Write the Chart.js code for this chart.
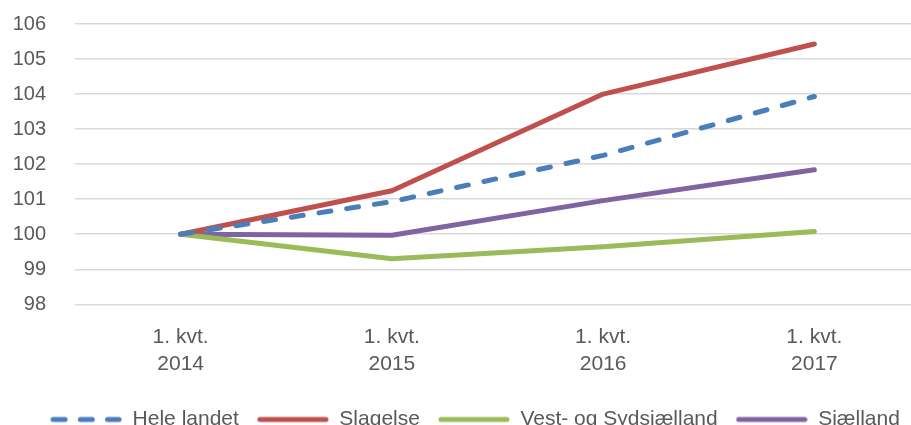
<!DOCTYPE html>
<html>
<head>
<meta charset="utf-8">
<script src="https://cdn.jsdelivr.net/npm/chart.js@4"></script>
<style>
  html, body { margin: 0; padding: 0; background: #fff; overflow: hidden; width: 911px; height: 425px; }
  #wrap { position: relative; width: 920px; height: 457px; margin-top: -17px; }
</style>
</head>
<body>
<div id="wrap"><canvas id="indexChart"></canvas></div>
<script>
  // data (index, 1. kvt. 2014 = 100)
  var quarters = [['1. kvt.', '2014'], ['1. kvt.', '2015'], ['1. kvt.', '2016'], ['1. kvt.', '2017']];
  var heleLandet = [100, 100.93, 102.25, 103.93];
  var slagelse = [100, 101.24, 104.0, 105.43];
  var vestSyd = [100, 99.3, 99.64, 100.08];
  var sjaelland = [100, 99.97, 100.96, 101.84];
  var yTicks = [98, 99, 100, 101, 102, 103, 104, 105, 106];

  var font = "'Liberation Sans', Arial, sans-serif";

  // small legend swatch (line, optionally dashed)
  function swatch(color, dash) {
    var c = document.createElement('canvas');
    c.width = 72;
    c.height = 8;
    var g = c.getContext('2d');
    g.strokeStyle = color;
    g.lineWidth = 5;
    g.lineCap = 'round';
    if (dash) g.setLineDash(dash);
    g.beginPath();
    g.moveTo(3, 4);
    g.lineTo(69, 4);
    g.stroke();
    return c;
  }

  // nudge the legend a bit to the right, like the original
  var legendShift = {
    id: 'legendShift',
    afterLayout: function(chart) {
      if (chart.legend) {
        chart.legend.left += 15;
        chart.legend.right += 15;
      }
    }
  };

  /*Start index chart*/
  var ctx = document.getElementById('indexChart').getContext('2d');
  var chart = new Chart(ctx, {
    type: 'line',
    data: {
      labels: quarters,
      datasets: [{
          label: 'Hele landet',
          data: heleLandet,
          borderColor: '#4a7ebb',
          backgroundColor: '#4a7ebb',
          borderDash: [12, 16],
          pointStyle: swatch('#4a7ebb', [12, 15.2]),
          borderWidth: 5
        },
        {
          label: 'Slagelse',
          data: slagelse,
          borderColor: '#c0504d',
          backgroundColor: '#c0504d',
          pointStyle: swatch('#c0504d'),
          borderWidth: 5
        },
        {
          label: 'Vest- og Sydsjælland',
          data: vestSyd,
          borderColor: '#9bbb59',
          backgroundColor: '#9bbb59',
          pointStyle: swatch('#9bbb59'),
          borderWidth: 5
        },
        {
          label: 'Sjælland',
          data: sjaelland,
          borderColor: '#8064a2',
          backgroundColor: '#8064a2',
          pointStyle: swatch('#8064a2'),
          borderWidth: 5
        }
      ]
    },
    options: {
      responsive: true,
      maintainAspectRatio: false,
      animation: false,
      layout: { padding: { top: 0, left: 0, right: 0, bottom: 0 } },
      elements: {
        point: { radius: 0 },
        line: { tension: 0, borderCapStyle: 'round', borderJoinStyle: 'round' }
      },
      scales: {
        x: {
          offset: true,
          afterFit: function(scale) { scale.height += 1.5; },
          grid: { display: false },
          border: { display: false },
          ticks: {
            color: '#595959',
            font: { family: font, size: 21, lineHeight: 1.29 },
            padding: 11.5,
            maxRotation: 0
          }
        },
        y: {
          min: 98,
          max: 106,
          afterFit: function(scale) { scale.width = 75; },
          afterBuildTicks: function(scale) {
            scale.ticks = yTicks.map(function(v) { return { value: v }; });
          },
          grid: { color: '#d9d9d9', lineWidth: 1.5, drawTicks: false },
          border: { display: false },
          ticks: {
            color: '#595959',
            font: { family: font, size: 20 },
            padding: 29
          }
        }
      },
      plugins: {
        legend: {
          position: 'bottom',
          labels: {
            color: '#595959',
            font: { family: font, size: 21 },
            usePointStyle: true,
            pointStyleWidth: 72,
            boxHeight: 8,
            padding: 18
          }
        },
        tooltip: { enabled: false }
      }
    },
    plugins: [legendShift]
  });
  //End index chart
</script>
</body>
</html>
